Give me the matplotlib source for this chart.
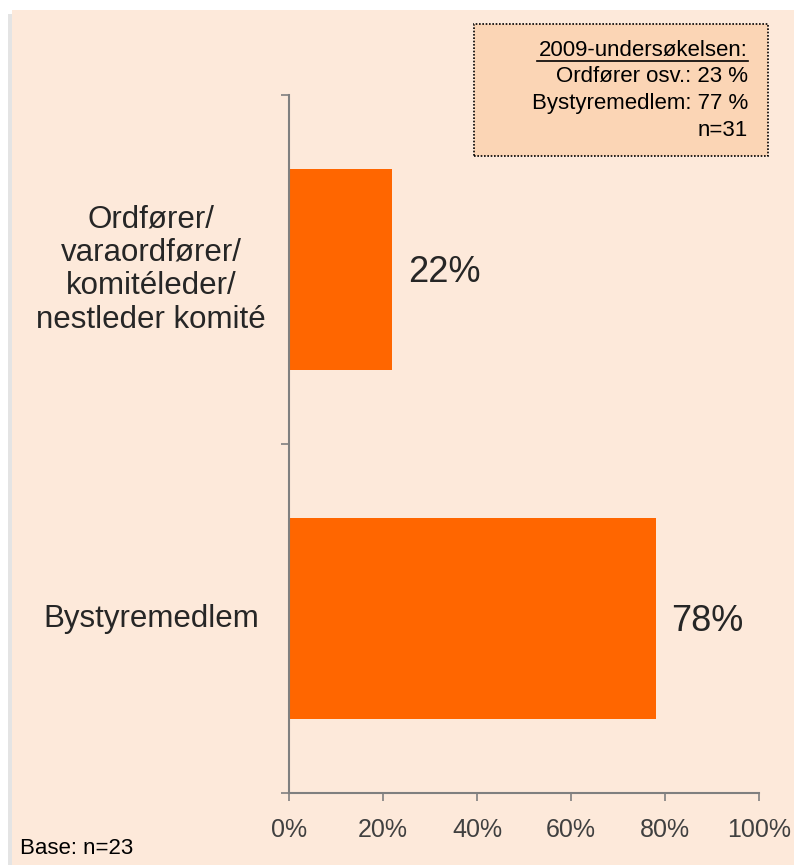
import matplotlib
matplotlib.use("Agg")
import matplotlib.pyplot as plt
from matplotlib.patches import Rectangle
from matplotlib.lines import Line2D
import matplotlib.transforms as mtransforms

plt.rcParams['font.family'] = ['Liberation Sans', 'DejaVu Sans']

categories = ["Ordfører/\nvaraordfører/\nkomitéleder/\nnestleder komité", "Bystyremedlem"]
values = [22, 78]
value_labels = ["22%", "78%"]
xticks = [0, 20, 40, 60, 80, 100]
xtick_labels = ["0%", "20%", "40%", "60%", "80%", "100%"]
legend_lines = ["2009-undersøkelsen:", "Ordfører osv.: 23 %", "Bystyremedlem: 77 %", "n=31"]
base_text = "Base: n=23"

W, H = 794, 865
fig = plt.figure(figsize=(W / 100, H / 100), dpi=100)
fig.patch.set_facecolor("white")

bg = "#FDE9DA"
fig.patches.append(Rectangle((8 / W, 0), (W - 8) / W, (H - 14) / H, transform=fig.transFigure,
                             facecolor="#E4E4E4", edgecolor="none", zorder=-3))
fig.patches.append(Rectangle((12 / W, 0), (W - 12) / W, (H - 10) / H, transform=fig.transFigure,
                             facecolor=bg, edgecolor="none", zorder=-2))

ax_left, ax_right = 289 / W, 759 / W
ax_bottom, ax_top = 1 - 793 / H, 1 - 95 / H
ax = fig.add_axes([ax_left, ax_bottom, ax_right - ax_left, ax_top - ax_bottom])
ax.set_facecolor("none")

ypos = list(range(len(categories)))
ax.barh(ypos, values, height=0.575, color="#FF6600", edgecolor="none", zorder=2)
ax.set_xlim(0, 100)
ax.set_ylim(len(categories) - 0.5, -0.5)

axis_color = "#7F7F7F"
for s in ["top", "right"]:
    ax.spines[s].set_visible(False)
for s in ["left", "bottom"]:
    ax.spines[s].set_color(axis_color)
    ax.spines[s].set_linewidth(1.5)

ax.set_xticks(xticks)
ax.set_xticklabels(xtick_labels, fontsize=18, color="#404040")
ax.set_yticks([-0.5, 0.5, 1.5])
ax.set_yticklabels([])
ax.tick_params(axis="x", length=6, width=1.2, color=axis_color, pad=12)
ax.tick_params(axis="y", length=6, width=1.2, color=axis_color)

trans = mtransforms.blended_transform_factory(ax.transAxes, ax.transData)
for i, c in enumerate(categories):
    ax.text((151 - 289) / 470, i, c, transform=trans, ha="center", va="center",
            fontsize=22.5, color="#262626", linespacing=1.15)

for i, (v, lab) in enumerate(zip(values, value_labels)):
    ax.annotate(lab, xy=(v, i), xytext=(11, -2), textcoords="offset points",
                ha="left", va="center", fontsize=26, color="#262626")

bx0, by0, bx1, by1 = 474, 24, 768, 156
fig.patches.append(Rectangle((bx0 / W, 1 - by1 / H), (bx1 - bx0) / W, (by1 - by0) / H,
                             transform=fig.transFigure, facecolor="#FBD5B5",
                             edgecolor="black", linestyle=(0, (1, 1)), linewidth=1.2, zorder=3))
ys = [50, 77, 103, 130]
for line, yy in zip(legend_lines, ys):
    fig.text(748 / W, 1 - yy / H, line, ha="right", va="center", fontsize=16,
             color="black", zorder=4)
fig.lines.append(Line2D([537 / W, 748 / W], [1 - 61 / H, 1 - 61 / H], transform=fig.transFigure,
                        color="black", linewidth=1.2, zorder=4))

fig.text(20 / W, 1 - 848 / H, base_text, ha="left", va="center", fontsize=16, color="black")

fig.savefig("out.png", dpi=100, facecolor=fig.get_facecolor())
